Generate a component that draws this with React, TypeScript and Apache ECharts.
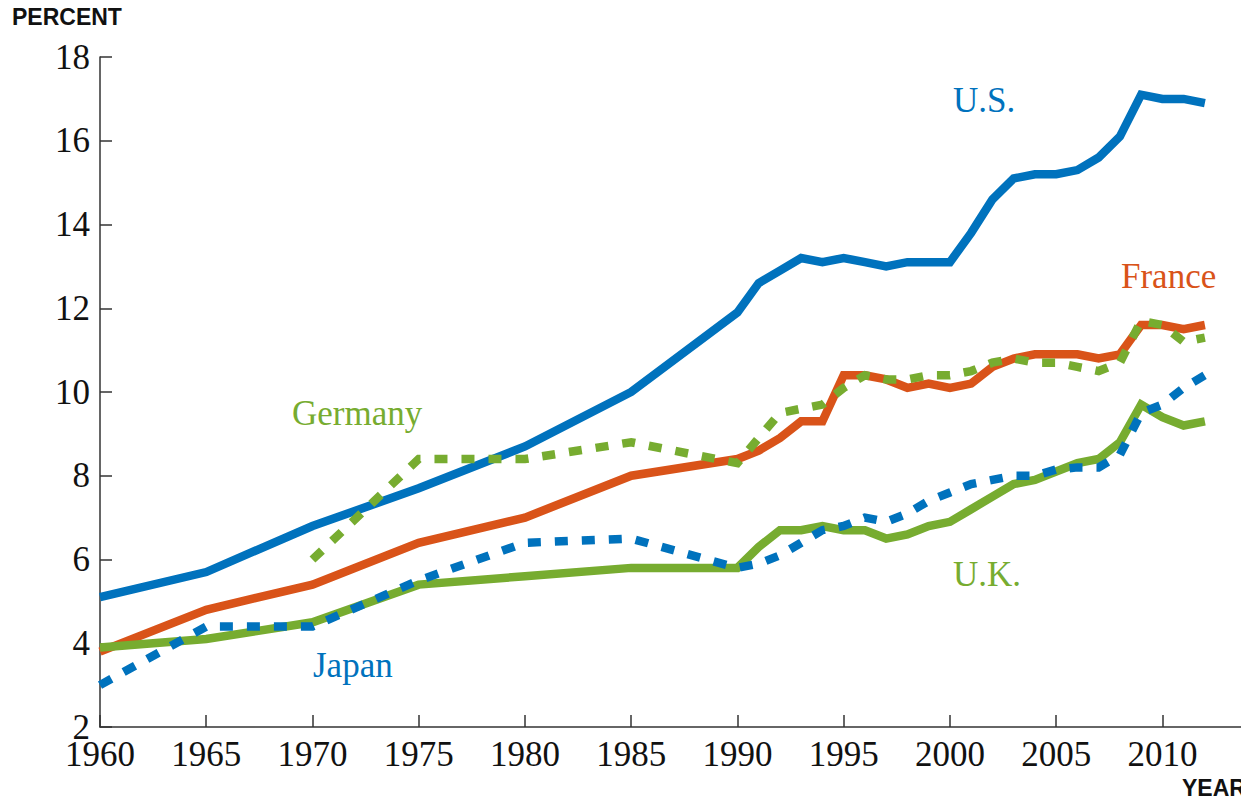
import React, { useEffect, useRef } from "react";
import * as echarts from "echarts";

const earlyYears = [1960, 1965, 1970, 1975, 1980, 1985];
const annualYears = [1990, 1991, 1992, 1993, 1994, 1995, 1996, 1997, 1998, 1999, 2000, 2001, 2002, 2003, 2004, 2005, 2006, 2007, 2008, 2009, 2010, 2011, 2012];
const germanyEarlyYears = [1970, 1975, 1980, 1985];

const usValues = [5.1, 5.7, 6.8, 7.7, 8.7, 10.0, 11.9, 12.6, 12.9, 13.2, 13.1, 13.2, 13.1, 13.0, 13.1, 13.1, 13.1, 13.8, 14.6, 15.1, 15.2, 15.2, 15.3, 15.6, 16.1, 17.1, 17.0, 17.0, 16.9];
const franceValues = [3.8, 4.8, 5.4, 6.4, 7.0, 8.0, 8.4, 8.6, 8.9, 9.3, 9.3, 10.4, 10.4, 10.3, 10.1, 10.2, 10.1, 10.2, 10.6, 10.8, 10.9, 10.9, 10.9, 10.8, 10.9, 11.6, 11.6, 11.5, 11.6];
const ukValues = [3.9, 4.1, 4.5, 5.4, 5.6, 5.8, 5.8, 6.3, 6.7, 6.7, 6.8, 6.7, 6.7, 6.5, 6.6, 6.8, 6.9, 7.2, 7.5, 7.8, 7.9, 8.1, 8.3, 8.4, 8.8, 9.7, 9.4, 9.2, 9.3];
const japanValues = [3.0, 4.4, 4.4, 5.5, 6.4, 6.5, 5.8, 5.9, 6.1, 6.4, 6.7, 6.8, 7.0, 6.9, 7.1, 7.4, 7.6, 7.8, 7.9, 8.0, 8.0, 8.15, 8.2, 8.2, 8.5, 9.5, 9.7, 10.1, 10.4];
const germanyValues = [6.0, 8.4, 8.4, 8.8, 8.3, 8.9, 9.5, 9.6, 9.7, 10.1, 10.4, 10.3, 10.3, 10.4, 10.4, 10.5, 10.7, 10.8, 10.7, 10.7, 10.6, 10.5, 10.7, 11.7, 11.6, 11.2, 11.3];

const xTickValues = [1960, 1965, 1970, 1975, 1980, 1985, 1990, 1995, 2000, 2005, 2010];

const BLUE = "#0072BD";
const ORANGE = "#D95319";
const GREEN = "#77AC30";
const SERIF = "'Liberation Serif', 'Times New Roman', serif";
const SANS = "'Liberation Sans', Arial, sans-serif";

function pairs(years: number[], values: number[]) {
  return years.map((y, i) => [y, values[i]]);
}

export default function App() {
  const ref = useRef<HTMLDivElement>(null);
  useEffect(() => {
    if (!ref.current) return;
    const chart = echarts.init(ref.current, null, { renderer: "svg" });
    const allYears = earlyYears.concat(annualYears);
    const gerYears = germanyEarlyYears.concat(annualYears);
    const solid = (name: string, color: string, data: number[][]) => ({
      name,
      type: "line",
      data,
      symbol: "none",
      lineStyle: { color, width: 8.5, cap: "butt", join: "miter" },
      z: 2,
    });
    const dotted = (name: string, color: string, data: number[][]) => ({
      name,
      type: "line",
      data,
      symbol: "none",
      lineStyle: { color, width: 8.5, type: [13, 14], cap: "butt", join: "miter" },
      z: 3,
    });
    const label = (text: string, x: number, y: number, color: string, font: string) => ({
      type: "text",
      x,
      y,
      z: 10,
      style: { text, fill: color, font, verticalAlign: "middle", align: "left" },
    });
    chart.setOption({
      animation: false,
      backgroundColor: "#ffffff",
      grid: { left: 100, top: 57, right: 0, bottom: 72, containLabel: false },
      xAxis: {
        type: "value",
        min: 1960,
        max: 2013.7,
        interval: 5,
        splitLine: { show: false },
        axisLine: { show: true, lineStyle: { color: "#333333", width: 1.5 } },
        axisTick: { show: true, inside: true, length: 12, customValues: xTickValues, lineStyle: { color: "#333333", width: 1.5 } },
        axisLabel: {
          customValues: xTickValues,
          color: "#111111",
          fontFamily: SERIF,
          fontSize: 35,
          margin: 27,
          verticalAlign: "middle",
          formatter: (v: number) => String(v),
        },
      },
      yAxis: {
        type: "value",
        min: 2,
        max: 18,
        interval: 2,
        splitLine: { show: false },
        axisLine: { show: true, lineStyle: { color: "#333333", width: 1.5 } },
        axisTick: { show: true, inside: true, length: 12, lineStyle: { color: "#333333", width: 1.5 } },
        axisLabel: { color: "#111111", fontFamily: SERIF, fontSize: 35, margin: 10 },
      },
      graphic: [
        label("PERCENT", 12, 17, "#111111", `bold 23px ${SANS}`),
        label("YEAR", 1182, 788, "#111111", `bold 23px ${SANS}`),
        label("U.S.", 953, 100, BLUE, `35px ${SERIF}`),
        label("France", 1121, 276, ORANGE, `35px ${SERIF}`),
        label("Germany", 292, 413, GREEN, `35px ${SERIF}`),
        label("U.K.", 953, 574, GREEN, `35px ${SERIF}`),
        label("Japan", 313, 665, BLUE, `35px ${SERIF}`),
      ],
      series: [
        solid("U.S.", BLUE, pairs(allYears, usValues)),
        solid("France", ORANGE, pairs(allYears, franceValues)),
        solid("U.K.", GREEN, pairs(allYears, ukValues)),
        dotted("Germany", GREEN, pairs(gerYears, germanyValues)),
        dotted("Japan", BLUE, pairs(allYears, japanValues)),
      ],
    });
    return () => chart.dispose();
  }, []);
  return <div ref={ref} style={{ position: "fixed", left: 0, top: 0, width: 1241, height: 799 }} />;
}
